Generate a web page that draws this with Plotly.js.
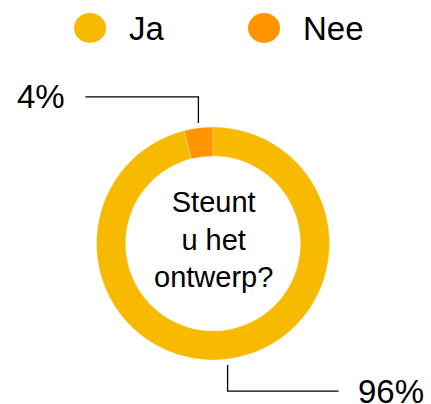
<!DOCTYPE html>
<html>
<head>
<meta charset="utf-8">
<script src="https://cdn.plot.ly/plotly-3.0.1.min.js"></script>
<style>html,body{margin:0;padding:0;background:#fff}#chart{width:431px;height:404px}</style>
</head>
<body>
<div id="chart"></div>
<script>
const categories = ["Ja", "Nee"];
const values = [96, 4];
const valueLabels = ["96%", "4%"];
const colors = ["#F7BA00", "#FF9500"];
const centerText = "Steunt<br>u het<br>ontwerp?";

const W = 431, H = 404;
const FONT = "Liberation Sans, Arial, Helvetica, sans-serif";
// donut geometry (pixels)
const cx = 213, cy = 243.5, R = 116.5;
const px = x => x / W, py = y => 1 - y / H;

const shapes = [], annotations = [];
const total = values.reduce((a, b) => a + b, 0);
let cum = 0;
values.forEach((v, i) => {
  const f = (cum + v / 2) / total;
  cum += v;
  const a = (90 - 360 * f) * Math.PI / 180;
  const x0 = cx + R * Math.cos(a);
  const up = Math.sin(a) > 0;
  const left = Math.cos(a) < 0;
  const yStart = up ? cy - R * Math.sin(a) - 5 : cy - R * Math.sin(a) + 6;
  const yElbow = up ? yStart - 26 : yStart + 26;
  const xEnd = left ? x0 - 113 : x0 + 111;
  shapes.push({type: "path", xref: "paper", yref: "paper",
    path: `M ${px(x0)} ${py(yStart)} L ${px(x0)} ${py(yElbow)} L ${px(xEnd)} ${py(yElbow)}`,
    line: {color: "#000", width: 1.3}});
  annotations.push({xref: "paper", yref: "paper", x: px(left ? xEnd - 19 : xEnd + 18), y: py(yElbow),
    xanchor: left ? "right" : "left", yanchor: "middle", showarrow: false, borderpad: 0,
    text: valueLabels[i], font: {family: FONT, size: 33, color: "#000"}});
});

// custom legend
const legendX = [90, 264];
categories.forEach((c, i) => {
  const lx = legendX[i], ly = 28, r = 16;
  shapes.push({type: "circle", xref: "paper", yref: "paper",
    x0: px(lx - r), x1: px(lx + r), y0: py(ly + r - 1), y1: py(ly - r + 1),
    fillcolor: colors[i], line: {width: 0}});
  annotations.push({xref: "paper", yref: "paper", x: px(lx + 37), y: py(ly + 1),
    xanchor: "left", yanchor: "middle", showarrow: false,
    text: c, font: {family: FONT, size: 33, color: "#000"}});
});

annotations.push({xref: "paper", yref: "paper", x: px(cx), y: py(cy - 4),
  xanchor: "center", yanchor: "middle", showarrow: false, align: "center",
  text: centerText, font: {family: FONT, size: 29, color: "#000"}});

const trace = {
  type: "pie", labels: categories, values: values, sort: false,
  direction: "clockwise", rotation: 0, hole: 0.75,
  marker: {colors: colors, line: {color: "rgba(255,255,255,0.5)", width: 0.6}},
  textinfo: "none", hoverinfo: "label+percent", showlegend: false,
  domain: {x: [px(cx - R), px(cx + R)], y: [py(cy + R), py(cy - R)]}
};

Plotly.newPlot("chart", [trace], {
  width: W, height: H, margin: {l: 0, r: 0, t: 0, b: 0},
  paper_bgcolor: "#fff", showlegend: false,
  shapes: shapes, annotations: annotations
}, {displayModeBar: false, staticPlot: true});
</script>
</body>
</html>
